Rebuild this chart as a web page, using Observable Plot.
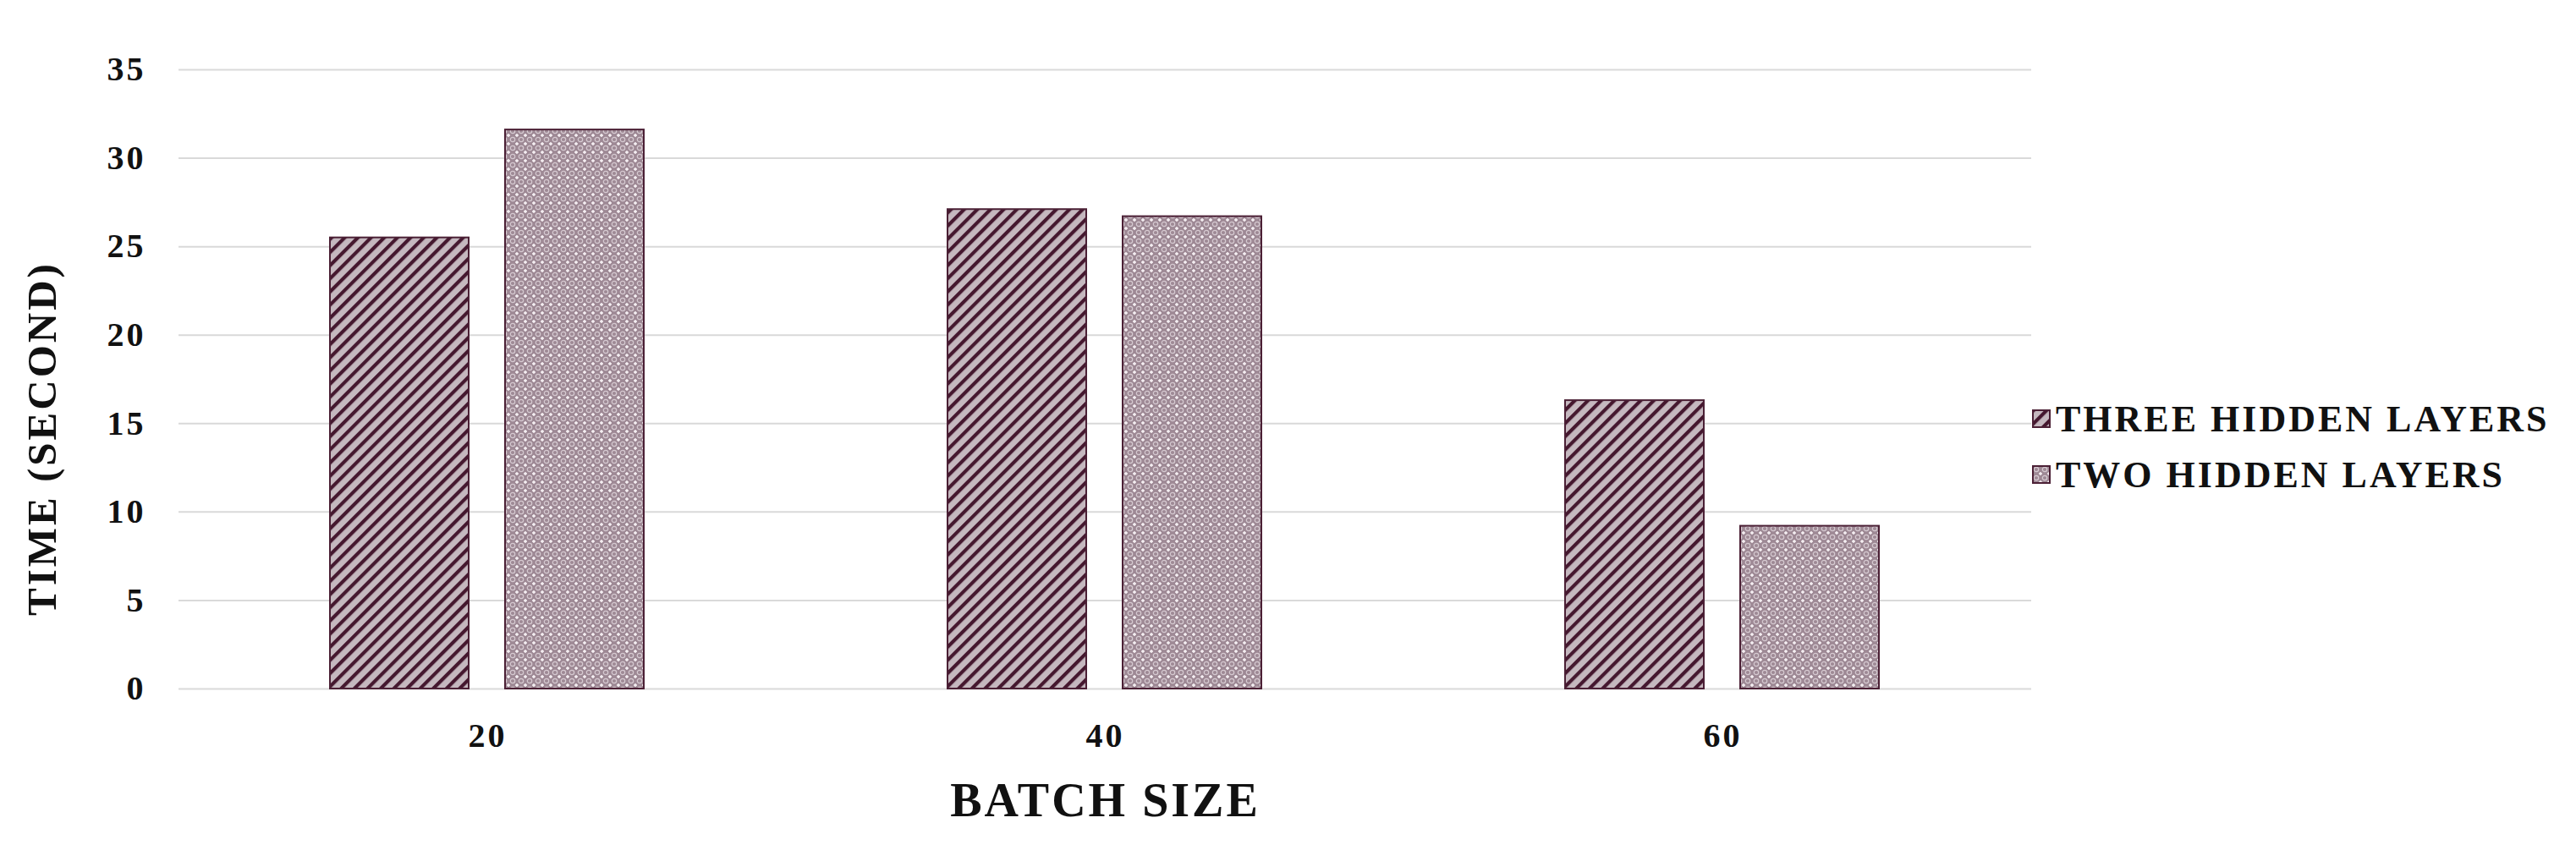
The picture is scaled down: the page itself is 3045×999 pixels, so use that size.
<!DOCTYPE html>
<html><head><meta charset="utf-8">
<script src="https://cdn.jsdelivr.net/npm/d3@7"></script>
<script src="https://cdn.jsdelivr.net/npm/@observablehq/plot@0.6"></script>
<style>
body{margin:0;background:#fff;}
#wrap{position:relative;width:3045px;height:999px;}
#legend{position:absolute;left:2402px;top:462px;font-family:"Liberation Serif",serif;font-weight:bold;font-size:44px;letter-spacing:3px;color:#111;}
.row{display:flex;align-items:center;height:66px;white-space:nowrap}
.sw{width:22px;height:22px;margin-right:6px;flex:none}
</style></head><body><div id="wrap"></div>
<script>
const batchSizes = ["20", "40", "60"];
const seriesNames = ["THREE HIDDEN LAYERS", "TWO HIDDEN LAYERS"];
const threeHidden = [25.5, 27.1, 16.3];
const twoHidden = [31.6, 26.7, 9.2];
const yTicks = [0, 5, 10, 15, 20, 25, 30, 35];

const rows = [];
batchSizes.forEach((b, i) => {
  rows.push({batch: b, series: seriesNames[0], time: threeHidden[i]});
  rows.push({batch: b, series: seriesNames[1], time: twoHidden[i]});
});

const chart = Plot.plot({
  width: 3045, height: 999,
  marginLeft: 210, marginRight: 643, marginTop: 82, marginBottom: 185,
  style: {fontFamily: '"Liberation Serif", serif', fontWeight: "bold", background: "white", color: "#111", letterSpacing: "3px"},
  fx: {domain: batchSizes, padding: 0},
  x: {domain: seriesNames, paddingInner: 0.207, paddingOuter: 0.86, axis: null},
  y: {domain: [0, 35]},
  marks: [
    Plot.ruleY(yTicks, {stroke: "#d9d9d9", strokeWidth: 2}),
    Plot.barY(rows.filter(d => d.series === seriesNames[0]), {fx: "batch", x: "series", y: "time", fill: "url(#stripes)", stroke: "#4b2035", strokeWidth: 2}),
    Plot.barY(rows.filter(d => d.series === seriesNames[1]), {fx: "batch", x: "series", y: "time", fill: "url(#dots)", stroke: "#4b2035", strokeWidth: 2}),
    Plot.axisY({ticks: yTicks, tickSize: 0, tickPadding: 39, fontSize: 40, label: "TIME (SECOND)", labelAnchor: "center", labelArrow: "none", labelOffset: 180}),
    Plot.axisFx({anchor: "bottom", tickSize: 0, tickPadding: 40, fontSize: 40, label: "BATCH SIZE", labelAnchor: "center", labelArrow: "none", labelOffset: 150})
  ]
});

const svg = d3.select(chart);
const defs = svg.insert("defs", ":first-child");
const p1 = defs.append("pattern").attr("id", "stripes").attr("patternUnits", "userSpaceOnUse")
  .attr("width", 11).attr("height", 11).attr("patternTransform", "rotate(45)");
p1.append("rect").attr("width", 11).attr("height", 11).attr("fill", "#c5b8bf");
p1.append("rect").attr("width", 4.2).attr("height", 11).attr("fill", "#45182f");
const p2 = defs.append("pattern").attr("id", "dots").attr("patternUnits", "userSpaceOnUse")
  .attr("width", 10).attr("height", 10);
p2.append("rect").attr("width", 10).attr("height", 10).attr("fill", "#9e8995");
p2.append("circle").attr("cx", 5).attr("cy", 5).attr("r", 2.7).attr("fill", "none").attr("stroke", "#d6cad1").attr("stroke-width", 1.2);
p2.append("path").attr("d", "M0 -2V2M-2 0H2M10 -2V2M8 0H12M0 8V12M-2 10H2M10 8V12M8 10H12").attr("stroke", "#fbf6f9").attr("stroke-width", 1.4);

svg.selectAll('[aria-label="y-axis label"] text').attr("font-size", 49).attr("dx", -70).style("letter-spacing", "3px");
svg.selectAll('[aria-label="fx-axis label"] text').attr("font-size", 56).style("letter-spacing", "3px");

const wrap = document.getElementById("wrap");
wrap.appendChild(chart);

const legend = d3.select(wrap).append("div").attr("id", "legend");
const fills = ["url(#stripes)", "url(#dots)"];
seriesNames.forEach((s, i) => {
  const row = legend.append("div").attr("class", "row");
  const sw = row.append("svg").attr("class", "sw").attr("width", 22).attr("height", 22);
  sw.append("rect").attr("x", 1).attr("y", 1).attr("width", 20).attr("height", 20)
    .attr("fill", fills[i]).attr("stroke", "#4b2035").attr("stroke-width", 2);
  row.append("span").text(s);
});
</script></body></html>
